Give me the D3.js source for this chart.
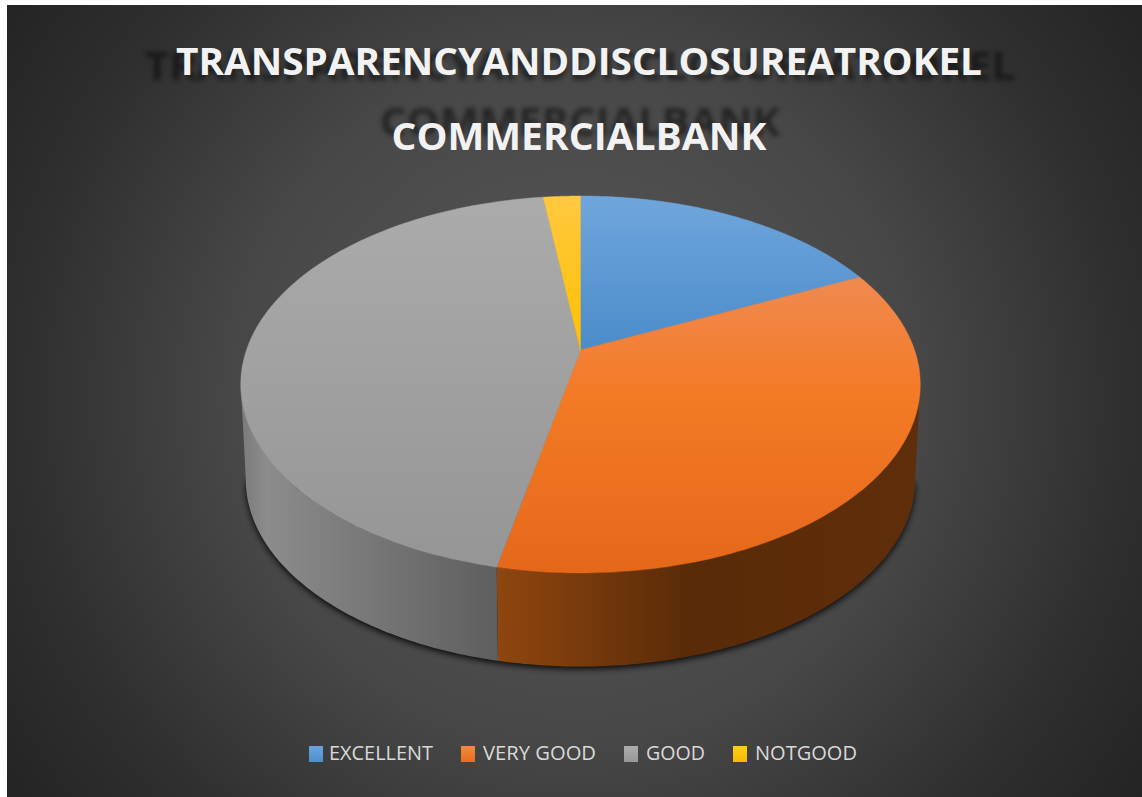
<!DOCTYPE html>
<html><head><meta charset="utf-8">
<script src="https://cdn.jsdelivr.net/npm/d3@7/dist/d3.min.js"></script>
<style>html,body{margin:0;padding:0;background:#fff;overflow:hidden}svg{display:block}</style>
</head><body>
<svg id="c" width="1142" height="797"></svg>
<script>
const categories = ["EXCELLENT","VERY GOOD","GOOD","NOTGOOD"];
const shares = [17.9,35.4,44.6,2.1];
const titleLines = ["TRANSPARENCYANDDISCLOSUREATROKEL","COMMERCIALBANK"];
const topStops = [["#70a6dc","#4a8cca"],["#f08a50","#e5681a"],["#ababab","#959595"],["#ffc840","#ffc000"]];
const legendColors = [["#69a5e0","#4d8fcc"],["#f58a40","#e86d1c"],["#adadad","#989898"],["#ffcc20","#f5bb00"]];

const svg = d3.select("#c");
const defs = svg.append("defs");
const bg = defs.append("radialGradient").attr("id","bg").attr("gradientUnits","userSpaceOnUse")
  .attr("cx",574).attr("cy",398).attr("r",690);
bg.append("stop").attr("offset",0).attr("stop-color","#5a5a5a");
bg.append("stop").attr("offset",.5).attr("stop-color","#474747");
bg.append("stop").attr("offset",.8).attr("stop-color","#2f2f2f");
bg.append("stop").attr("offset",1).attr("stop-color","#242424");
defs.append("filter").attr("id","blur").attr("x","-10%").attr("y","-50%").attr("width","120%").attr("height","200%")
  .append("feGaussianBlur").attr("stdDeviation",2.4);
defs.append("filter").attr("id","sh").attr("x","-10%").attr("y","-10%").attr("width","120%").attr("height","120%")
  .append("feGaussianBlur").attr("stdDeviation",3);

svg.append("rect").attr("x",7).attr("y",5).attr("width",1135).attr("height",792).attr("fill","url(#bg)");

// projective mapping of the unit disc onto the tilted pie
const cx=580.5, apexY=350, persp=-0.183, scaleV=118.1, scaleU=334;
const project=(u,v)=>{const w=1+persp*v; return [cx+scaleU*u/w,(scaleV*v+apexY)/w];};
const bottomFrom=p=>[cx+(p[0]-cx)*0.985, 480+(p[1]-384.5)*0.99];
const rim=a=>project(Math.sin(a),-Math.cos(a));
const pie=d3.pie().sort(null)(shares);
const arcs=pie.map((d,i)=>({i,start:d.startAngle,end:d.endAngle}));
const samples=(s,e)=>d3.range(0,121).map(t=>s+(e-s)*t/120);
const line=d3.line();
const wallFrom=Math.PI/2+Math.asin(-persp), wallTo=Math.PI*1.5-Math.asin(-persp);

// shadow under the body
const all=samples(wallFrom,wallTo).map(a=>bottomFrom(rim(a)));
svg.append("path").attr("d",line(all.map(p=>[p[0],p[1]+2.5]))+"Z").attr("fill","#000").attr("opacity",.85).attr("filter","url(#sh)");

// side walls
const sideGrad={
  1:[[0,"#8f460f"],[.45,"#5a2b08"],[1,"#5f2e0b"]],
  2:[[0,"#7a7a7a"],[.1,"#8c8c8c"],[1,"#5e5e5e"]]
};
arcs.forEach(a=>{
  const s=Math.max(a.start,wallFrom), e=Math.min(a.end,wallTo);
  if(e<=s||!sideGrad[a.i]) return;
  const top=samples(s,e).map(rim), bot=top.map(bottomFrom).reverse();
  const x0=d3.min(top,p=>p[0]), x1=d3.max(top,p=>p[0]);
  const id="side"+a.i;
  const g=defs.append("linearGradient").attr("id",id).attr("gradientUnits","userSpaceOnUse").attr("x1",x0).attr("x2",x1).attr("y1",0).attr("y2",0);
  sideGrad[a.i].forEach(o=>g.append("stop").attr("offset",o[0]).attr("stop-color",o[1]));
  svg.append("path").attr("d",line(top.concat(bot))+"Z").attr("fill",`url(#${id})`);
});

// top slices
arcs.forEach(a=>{
  const id="top"+a.i;
  const g=defs.append("linearGradient").attr("id",id).attr("gradientUnits","userSpaceOnUse").attr("x1",0).attr("x2",0);
  const pts=[[cx,apexY]].concat(samples(a.start,a.end).map(rim));
  g.attr("y1",a.i===1?277:196).attr("y2",a.i===0||a.i===3?350:573);
  g.append("stop").attr("offset",0).attr("stop-color",topStops[a.i][0]);
  if(a.i===1) g.append("stop").attr("offset",.4).attr("stop-color","#f47a25");
  g.append("stop").attr("offset",1).attr("stop-color",topStops[a.i][1]);
  svg.append("path").attr("d",line(pts)+"Z").attr("fill",`url(#${id})`).attr("stroke",`url(#${id})`).attr("stroke-width",.5);
});

// title with blurred reflection
const fontT="'Open Sans',sans-serif";
const titleY=[75,150], shY=[80,136], tw=[806,375], sw=[870,400];
titleLines.forEach((t,i)=>{
  svg.append("text").attr("x",580).attr("y",shY[i]).attr("text-anchor","middle").attr("font-family",fontT).attr("font-weight",700).attr("font-size",39)
    .attr("textLength",sw[i]).attr("lengthAdjust","spacingAndGlyphs").attr("fill","#000").attr("opacity",.5).attr("filter","url(#blur)").text(t);
  svg.append("text").attr("x",579).attr("y",titleY[i]).attr("text-anchor","middle").attr("font-family",fontT).attr("font-weight",700).attr("font-size",37)
    .attr("textLength",tw[i]).attr("lengthAdjust","spacingAndGlyphs").attr("fill","#f2f2f2").text(t);
});

// legend
const legX=[309,461,624,733], txtX=[329,483,646,755], txtW=[104,113,59,102];
categories.forEach((c,i)=>{
  const g=defs.append("linearGradient").attr("id","lg"+i).attr("x1",0).attr("x2",0).attr("y1",0).attr("y2",1);
  g.append("stop").attr("offset",0).attr("stop-color",legendColors[i][0]);
  g.append("stop").attr("offset",1).attr("stop-color",legendColors[i][1]);
  svg.append("rect").attr("x",legX[i]).attr("y",746).attr("width",14).attr("height",16).attr("fill",`url(#lg${i})`);
  svg.append("text").attr("x",txtX[i]).attr("y",760).attr("font-family","'Open Sans',sans-serif").attr("font-size",20).attr("fill","#d9d9d9")
    .attr("textLength",txtW[i]).attr("lengthAdjust","spacingAndGlyphs").text(c);
});
</script>
</body></html>
